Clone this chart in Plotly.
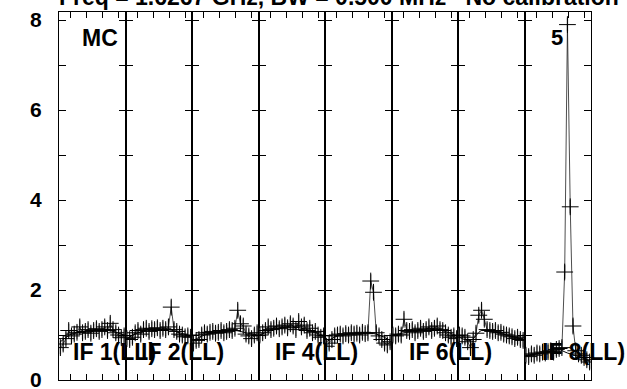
import plotly.graph_objects as go
from plotly.subplots import make_subplots

# ---- data ----
if_labels = ["IF 1(LL)", "IF 2(LL)", "IF 3(LL)", "IF 4(LL)", "IF 5(LL)", "IF 6(LL)", "IF 7(LL)", "IF 8(LL)"]
shown_labels = [True, True, False, True, False, True, False, True]
channels = list(range(1, 25))

if1 = [0.72, 0.80, 0.92, 1.10, 0.98, 1.02, 1.06, 1.18, 1.05, 1.08, 1.12, 1.04, 1.10, 1.14, 1.08, 1.12, 1.18, 1.10, 1.26, 1.12, 1.05, 1.00, 0.94, 0.98]
if2 = [0.92, 0.90, 0.95, 1.05, 1.10, 1.02, 1.12, 1.15, 1.08, 1.14, 1.12, 1.16, 1.10, 1.15, 1.12, 1.18, 1.62, 1.12, 1.08, 1.02, 1.00, 0.96, 0.98, 0.95]
if3 = [0.82, 0.88, 0.90, 1.00, 1.05, 1.02, 1.06, 1.08, 1.04, 1.06, 1.10, 1.05, 1.08, 1.12, 1.10, 1.15, 1.55, 1.25, 1.20, 1.02, 0.98, 0.92, 1.00, 1.05]
if4 = [1.00, 1.05, 1.10, 1.18, 1.12, 1.15, 1.20, 1.14, 1.18, 1.22, 1.16, 1.25, 1.20, 1.12, 1.30, 1.18, 1.22, 1.10, 1.15, 1.05, 1.08, 1.00, 0.95, 0.98]
if5 = [0.75, 0.82, 0.90, 0.98, 1.00, 1.02, 0.98, 1.03, 1.00, 1.05, 1.02, 1.04, 1.00, 1.06, 1.03, 1.05, 2.20, 1.95, 1.05, 0.98, 0.90, 0.82, 0.78, 0.85]
if6 = [1.00, 0.98, 1.02, 1.00, 1.35, 1.10, 1.08, 1.12, 1.05, 1.10, 1.15, 1.08, 1.12, 1.18, 1.10, 1.15, 1.20, 1.12, 1.10, 1.05, 1.00, 0.95, 0.98, 0.92]
if7 = [1.00, 0.98, 0.95, 0.85, 0.72, 0.90, 1.04, 1.44, 1.55, 1.35, 1.12, 1.10, 1.08, 1.10, 1.05, 1.06, 1.02, 1.00, 0.98, 0.96, 0.92, 0.95, 0.90, 0.88]
if8 = [0.55, 0.52, 0.58, 0.55, 0.60, 0.58, 0.62, 0.60, 0.63, 0.65, 0.62, 0.68, 0.70, 0.72, 2.40, 7.90, 3.85, 1.20, 0.65, 0.58, 0.55, 0.50, 0.45, 0.40]
series = [if1, if2, if3, if4, if5, if6, if7, if8]

model_chan = [1, 5, 9, 12.5, 16, 20, 24]
model = [
    [0.85, 1.02, 1.08, 1.10, 1.12, 1.08, 1.00],
    [0.92, 1.05, 1.10, 1.12, 1.12, 1.05, 0.98],
    [0.88, 1.00, 1.05, 1.08, 1.10, 1.05, 1.00],
    [1.00, 1.10, 1.16, 1.18, 1.15, 1.08, 0.98],
    [0.85, 0.98, 1.02, 1.03, 1.05, 1.00, 0.88],
    [1.00, 1.05, 1.10, 1.13, 1.14, 1.08, 0.98],
    [0.95, 0.88, 1.10, 1.08, 1.03, 0.97, 0.90],
    [0.55, 0.58, 0.62, 0.68, 0.60, 0.52, 0.42],
]
err = 0.15

y_tickvals = [0, 1, 2, 3, 4, 5, 6, 7, 8]
y_ticktext = ["0", "", "2", "", "4", "", "6", "", "8"]

title_text = "Freq = 1.6267 GHz, BW = 0.500 MHz   No calibration"
source_text = "MC"
source_num = "5"

# ---- figure ----
W, H = 627, 389
L, R, T, B = 59, 36, 12, 9
FONT = "Liberation Sans, Arial, sans-serif"

fig = make_subplots(rows=1, cols=8, shared_yaxes=True, horizontal_spacing=0)

for k, vals in enumerate(series):
    col = k + 1
    fig.add_trace(go.Scatter(
        x=channels, y=vals, mode="markers",
        marker=dict(size=1, opacity=0),
        error_y=dict(type="constant", value=err, color="#999999", thickness=1.5, width=0),
        showlegend=False, hoverinfo="skip"), row=1, col=col)
    fig.add_trace(go.Scatter(
        x=model_chan, y=model[k], mode="lines",
        line=dict(color="black", width=1, shape="spline"),
        showlegend=False, hoverinfo="skip"), row=1, col=col)
    fig.add_trace(go.Scatter(
        x=channels, y=vals, mode="lines+markers",
        line=dict(color="black", width=0.7),
        marker=dict(symbol="cross-thin", size=12, line=dict(color="black", width=1)),
        showlegend=False, hoverinfo="skip"), row=1, col=col)

fig.update_xaxes(
    range=[0.5, 24.5], showticklabels=False,
    tickmode="linear", tick0=4.72, dtick=5.77,
    ticks="inside", ticklen=6, tickcolor="black", tickwidth=1,
    showline=True, linecolor="black", linewidth=1, mirror="ticks",
    showgrid=False, zeroline=False)

fig.update_yaxes(
    range=[0, 8.18], tickmode="array", tickvals=y_tickvals, ticktext=y_ticktext,
    ticks="inside", ticklen=7, tickcolor="black", tickwidth=1,
    showline=True, linecolor="black", linewidth=1, mirror="ticks",
    showgrid=False, zeroline=False, automargin=False)
fig.update_yaxes(tickfont=dict(family=FONT, size=21, color="black", weight="bold"),
                 ticklabelstandoff=12, ticklabeloverflow="allow", row=1, col=1)

annotations = []
label_px = [71, 139, None, 273, None, 407, None, 540]
for k, lab in enumerate(if_labels):
    if not shown_labels[k]:
        continue
    annotations.append(dict(
        text=lab, xref="paper", yref="paper",
        x=(label_px[k] - L) / (W - L - R), y=(380 - 352) / (H - T - B),
        xanchor="left", yanchor="middle", showarrow=False,
        font=dict(family=FONT, size=23, color="black", weight="bold")))
annotations.append(dict(
    text=source_text, xref="paper", yref="paper",
    x=(100 - L) / (W - L - R), y=(380 - 38) / (H - T - B),
    xanchor="center", yanchor="middle", showarrow=False,
    font=dict(family=FONT, size=23, color="black", weight="bold")))
annotations.append(dict(
    text=source_num, xref="paper", yref="paper",
    x=(557 - L) / (W - L - R), y=(380 - 37) / (H - T - B),
    xanchor="center", yanchor="middle", showarrow=False,
    font=dict(family=FONT, size=22, color="black", weight="bold")))
annotations.append(dict(
    text=title_text, xref="paper", yref="paper",
    x=(339 - L) / (W - L - R), y=(380 - (-3)) / (H - T - B),
    xanchor="center", yanchor="middle", showarrow=False,
    font=dict(family=FONT, size=23, color="black", weight="bold")))

fig.update_layout(
    width=W, height=H,
    margin=dict(l=L, r=R, t=T, b=B, autoexpand=False),
    paper_bgcolor="white", plot_bgcolor="white",
    annotations=annotations,
    showlegend=False)

fig.write_html("out.html",
               config={"displayModeBar": False},
               post_script="document.body.style.margin='0';document.body.style.padding='0';")
